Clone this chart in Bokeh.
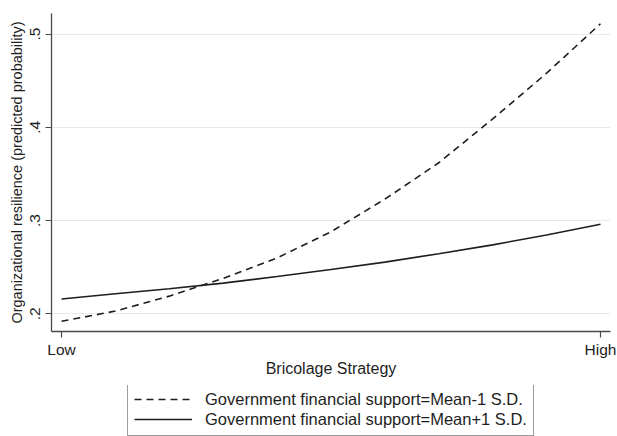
from bokeh.plotting import figure
from bokeh.layouts import column
from bokeh.models import FixedTicker, Legend, LegendItem, ColumnDataSource, Range1d
from bokeh.embed import file_html
from bokeh.resources import INLINE

# ---- data ----
bricolage = [0.0, 0.1, 0.2, 0.3, 0.4, 0.5, 0.6, 0.7, 0.8, 0.9, 1.0]
pred_support_minus_sd = [0.192, 0.203, 0.219, 0.238, 0.260, 0.288, 0.323, 0.362, 0.409, 0.458, 0.511]
pred_support_plus_sd = [0.216, 0.2215, 0.227, 0.233, 0.240, 0.2475, 0.2555, 0.2645, 0.274, 0.2845, 0.296]
x_tick_values = [0, 1]
x_tick_labels = ["Low", "High"]
y_tick_values = [0.2, 0.3, 0.4, 0.5]
y_tick_labels = [".2", ".3", ".4", ".5"]
series_labels = ["Government financial support=Mean-1 S.D.",
                 "Government financial support=Mean+1 S.D."]
x_title = "Bricolage Strategy"
y_title = "Organizational resilience (predicted probability)"

FONT = "Liberation Sans"
INK = "#1e1e1e"
DASH = "7 5"

src = ColumnDataSource(dict(x=bricolage, lo=pred_support_minus_sd, hi=pred_support_plus_sd))

p = figure(width=617, height=385, output_backend="svg", toolbar_location=None,
           x_range=(-0.0186, 1.0186), y_range=(0.1811, 0.522),
           min_border_left=51, min_border_right=7, min_border_top=13, min_border_bottom=54)
p.outline_line_color = None
p.background_fill_color = "white"
p.border_fill_color = "white"

p.line("x", "lo", source=src, line_color=INK, line_width=1.6, line_dash=DASH)
p.line("x", "hi", source=src, line_color=INK, line_width=1.6)

for ax in p.axis:
    ax.axis_line_color = "#4a4a4a"
    ax.axis_line_width = 1.3
    ax.major_tick_line_color = "#4a4a4a"
    ax.major_tick_line_width = 1.2
    ax.minor_tick_line_color = None
    ax.major_tick_in = 0
    ax.major_tick_out = 6
    ax.major_label_text_font = FONT
    ax.major_label_text_font_size = "15.5px"
    ax.major_label_text_color = INK
    ax.axis_label_text_font = FONT
    ax.axis_label_text_color = INK
    ax.axis_label_text_font_style = "normal"

# x axis
xa = p.xaxis[0]
xa.ticker = FixedTicker(ticks=x_tick_values)
xa.major_label_overrides = {v: l for v, l in zip(x_tick_values, x_tick_labels)}
xa.major_label_standoff = 3
xa.axis_label = x_title
xa.axis_label_standoff = -1
xa.axis_label_text_font_size = "16px"

# y axis
ya = p.yaxis[0]
ya.ticker = FixedTicker(ticks=y_tick_values)
ya.major_label_overrides = {v: l for v, l in zip(y_tick_values, y_tick_labels)}
ya.major_label_orientation = "vertical"
ya.major_label_standoff = 5
ya.axis_label = y_title
ya.axis_label_standoff = 3
ya.axis_label_text_font_size = "14.5px"

# grid
p.xgrid.grid_line_color = None
p.ygrid.ticker = FixedTicker(ticks=y_tick_values)
p.ygrid.grid_line_color = "#e8e8e8"
p.ygrid.grid_line_width = 1

# ---- legend strip below the plot (its lines lie outside its own ranges) ----
pl = figure(width=617, height=51, output_backend="svg", toolbar_location=None,
            x_axis_location=None, y_axis_location=None,
            x_range=Range1d(10, 11), y_range=Range1d(10, 11),
            min_border_left=0, min_border_right=0, min_border_top=0, min_border_bottom=0)
pl.outline_line_color = None
pl.grid.grid_line_color = None
pl.border_fill_color = "white"
l1 = pl.line("x", "lo", source=src, line_color=INK, line_width=1.6, line_dash=DASH)
l2 = pl.line("x", "hi", source=src, line_color=INK, line_width=1.6)

legend = Legend(items=[LegendItem(label=series_labels[0], renderers=[l1]),
                       LegendItem(label=series_labels[1], renderers=[l2])],
                location=(76, 0), orientation="vertical")
legend.border_line_color = "#3a3a3a"
legend.border_line_width = 1
legend.background_fill_color = "white"
legend.background_fill_alpha = 1
legend.label_text_font = FONT
legend.label_text_font_size = "16.5px"
legend.label_text_color = INK
legend.glyph_width = 58
legend.glyph_height = 20
legend.label_height = 20
legend.label_standoff = 13
legend.padding = 6
legend.spacing = 0
legend.margin = 0
pl.add_layout(legend, "center")

layout = column(p, pl, spacing=0)
open("out.html", "w").write(file_html(layout, INLINE))
